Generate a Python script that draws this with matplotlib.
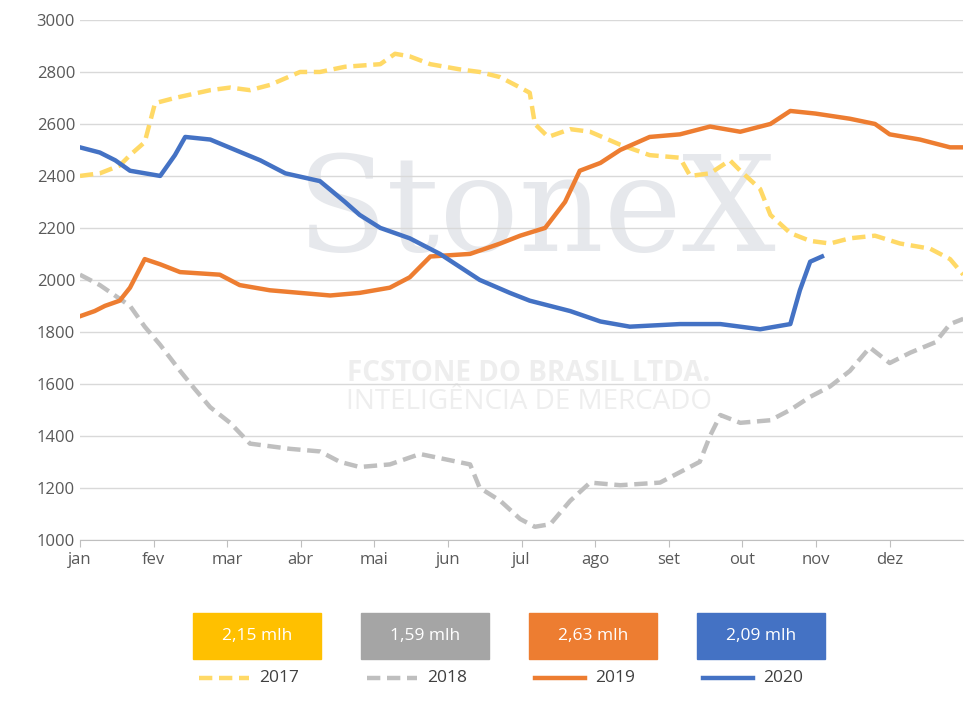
import matplotlib.pyplot as plt
from matplotlib.lines import Line2D
from matplotlib.patches import Rectangle

plt.rcParams['font.family'] = ['Open Sans', 'DejaVu Sans']

months = ['jan', 'fev', 'mar', 'abr', 'mai', 'jun', 'jul', 'ago', 'set', 'out', 'nov', 'dez']

# x in month units (0 = start of jan, 12 = end of dez)
x_2017 = [0, 0.27, 0.54, 0.68, 0.88, 1.02, 1.29, 1.77, 2.04, 2.31, 2.58, 2.99, 3.26, 3.6, 4.08, 4.28, 4.48,
          4.76, 5.16, 5.43, 5.71, 5.98, 6.11, 6.18, 6.36, 6.66, 6.93, 7.34, 7.74, 8.15, 8.29, 8.56, 8.83,
          8.97, 9.24, 9.38, 9.65, 9.92, 10.19, 10.46, 10.8, 11.14, 11.55, 11.82, 12]
y_2017 = [2400, 2410, 2440, 2480, 2530, 2680, 2700, 2730, 2740, 2730, 2750, 2800, 2800, 2820, 2830, 2870, 2860,
          2830, 2810, 2800, 2780, 2740, 2720, 2600, 2550, 2580, 2570, 2520, 2480, 2470, 2400, 2410, 2460,
          2420, 2350, 2250, 2180, 2150, 2140, 2160, 2170, 2140, 2120, 2080, 2020]

x_2018 = [0, 0.27, 0.68, 0.88, 1.09, 1.36, 1.56, 1.77, 2.04, 2.31, 2.58, 2.85, 3.26, 3.53, 3.8, 4.21, 4.62,
          4.96, 5.3, 5.43, 5.71, 5.98, 6.18, 6.39, 6.66, 6.93, 7.34, 7.88, 8.15, 8.42, 8.56, 8.7, 8.97,
          9.38, 9.65, 9.92, 10.19, 10.46, 10.73, 11.0, 11.28, 11.62, 11.82, 12]
y_2018 = [2020, 1980, 1900, 1820, 1750, 1650, 1580, 1510, 1450, 1370, 1360, 1350, 1340, 1300, 1280, 1290, 1330,
          1310, 1290, 1200, 1150, 1080, 1050, 1060, 1150, 1220, 1210, 1220, 1260, 1300, 1400, 1480, 1450,
          1460, 1500, 1550, 1590, 1650, 1740, 1680, 1720, 1760, 1830, 1850]

x_2019 = [0, 0.2, 0.34, 0.54, 0.68, 0.88, 1.09, 1.36, 1.9, 2.17, 2.58, 2.99, 3.4, 3.8, 4.21, 4.48, 4.76,
          5.3, 5.71, 5.98, 6.32, 6.59, 6.79, 7.07, 7.34, 7.74, 8.15, 8.56, 8.97, 9.38, 9.65, 9.99, 10.46,
          10.8, 11.0, 11.41, 11.82, 12]
y_2019 = [1860, 1880, 1900, 1920, 1970, 2080, 2060, 2030, 2020, 1980, 1960, 1950, 1940, 1950, 1970, 2010, 2090,
          2100, 2140, 2170, 2200, 2300, 2420, 2450, 2500, 2550, 2560, 2590, 2570, 2600, 2650, 2640, 2620,
          2600, 2560, 2540, 2510, 2510]

x_2020 = [0, 0.27, 0.48, 0.68, 1.09, 1.29, 1.43, 1.77, 2.11, 2.45, 2.79, 3.26, 3.6, 3.8, 4.08, 4.48, 4.89,
          5.16, 5.43, 5.84, 6.11, 6.66, 7.07, 7.47, 8.15, 8.7, 9.24, 9.65, 9.78, 9.92, 10.08]
y_2020 = [2510, 2490, 2460, 2420, 2400, 2480, 2550, 2540, 2500, 2460, 2410, 2380, 2300, 2250, 2200, 2160, 2100,
          2050, 2000, 1950, 1920, 1880, 1840, 1820, 1830, 1830, 1810, 1830, 1960, 2070, 2090]

series = [
    ('2017', x_2017, y_2017, '#FFD966', (0, (3, 1.5)), '2,15 mlh', '#FFC000'),
    ('2018', x_2018, y_2018, '#BFBFBF', (0, (3, 1.5)), '1,59 mlh', '#A5A5A5'),
    ('2019', x_2019, y_2019, '#ED7D31', '-', '2,63 mlh', '#ED7D31'),
    ('2020', x_2020, y_2020, '#4472C4', '-', '2,09 mlh', '#4472C4'),
]

fig = plt.figure(figsize=(9.75, 7.14), dpi=100)
ax = fig.add_axes([0.082, 0.244, 0.906, 0.728])

# watermark
ax.text(6.2, 2250, 'StoneX', fontsize=95, color='#E6E8EC', ha='center', va='center',
        family='DejaVu Serif', zorder=0)
ax.text(6.1, 1640, 'FCSTONE DO BRASIL LTDA.', fontsize=20, color='#EEEEEE', ha='center',
        va='center', fontweight='bold', zorder=0)
ax.text(6.1, 1530, 'INTELIGÊNCIA DE MERCADO', fontsize=20, color='#EEEEEE', ha='center',
        va='center', zorder=0)

for name, xs, ys, c, ls, _, _ in series:
    ax.plot(xs, ys, color=c, linestyle=ls, linewidth=3.2, zorder=3)

ax.set_xlim(0, 12)
ax.set_ylim(1000, 3000)
ax.set_yticks(range(1000, 3001, 200))
ax.set_xticks(range(12))
ax.set_xticklabels(months)
ax.grid(axis='y', color='#D9D9D9', linewidth=1)
ax.set_axisbelow(True)
for s in ['top', 'right', 'left']:
    ax.spines[s].set_visible(False)
ax.spines['bottom'].set_color('#BFBFBF')
ax.tick_params(axis='y', length=0, labelsize=12, colors='#595959')
ax.tick_params(axis='x', length=5, color='#BFBFBF', labelsize=12, colors='#595959')
for lbl in ax.get_xticklabels():
    lbl.set_horizontalalignment('center')

# legend boxes and line legend
box_cx = [257, 425, 593, 761]
for (name, _, _, c, ls, tot, bc), cx in zip(series, box_cx):
    fx, fw = cx / 975, 128 / 975
    fig.add_artist(Rectangle((fx - fw / 2, (714 - 659) / 714), fw, 46 / 714,
                             transform=fig.transFigure, color=bc))
    fig.text(fx, (714 - 636) / 714, tot, color='white', fontsize=12.5, ha='center', va='center')
    ly = (714 - 678) / 714
    fig.add_artist(Line2D([(cx - 58) / 975, (cx - 8) / 975], [ly, ly], color=c, linestyle=ls,
                          linewidth=3.2, transform=fig.transFigure))
    fig.text((cx + 2) / 975, ly, name, fontsize=12.5, color='#404040', va='center')

fig.savefig('out.png', dpi=100)
